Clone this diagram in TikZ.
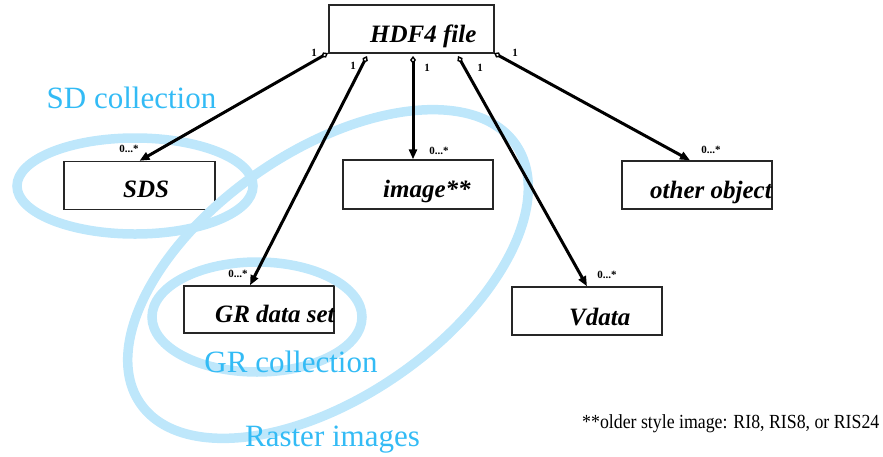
\documentclass[tikz,border=0pt]{standalone}
\usepackage{fontspec}
\setmainfont{Liberation Serif}
\newfontfamily\condfont[FakeStretch=0.89]{Liberation Serif}
\usetikzlibrary{arrows.meta,calc}
\definecolor{ringblue}{RGB}{190,231,251}
\definecolor{labelblue}{RGB}{51,187,245}
\begin{document}
\begin{tikzpicture}[x=1pt,y=-1pt,
  box/.style={draw=black!85, line width=1.4pt, minimum width=150pt, minimum height=48pt, inner sep=0pt},
  boxtext/.style={font=\fontsize{25}{25}\selectfont\bfseries\itshape, anchor=base west, inner sep=0pt},
  link/.style={line width=3pt, {Diamond[open,length=8pt,width=6pt,line width=1.4pt]}-{Triangle[length=10pt,width=8pt]}},
  ring/.style={draw=ringblue, line width=9.5pt},
  ringlabel/.style={text=labelblue, font=\fontsize{31}{31}\selectfont, inner sep=0pt, anchor=base},
  mult/.style={font=\fontsize{11}{11}\selectfont\bfseries, inner sep=0pt}]
\useasboundingbox (0,0) rectangle (883,456);

% boxes
\node[box, minimum width=165pt] (hdf) at (411.5,29) {};
\node[box, minimum width=151pt] (sds) at (139.5,185.5) {};
\node[box, minimum height=49pt] (img) at (418,184.5) {};
\node[box] (oth) at (697,185) {};
\node[box, minimum height=47pt] (gr) at (259,309.5) {};
\node[box] (vd) at (587,311) {};

% box texts
\node[boxtext] (hdft) at (370,42) {HDF4 file};
\node[boxtext] (sdst) at (123,197) {SDS};
\node[boxtext] (imgt) at (383,197) {image**};
\node[boxtext] (otht) at (650,198) {other object};
\node[boxtext] (grt) at (215,322) {GR data set};
\node[boxtext] (vdt) at (569,325) {Vdata};

% collections
\draw[ring] (135,186) ellipse [x radius=118, y radius=48];
\draw[ring] (257,317) ellipse [x radius=105, y radius=55];
\draw[ring, rotate around={34.6:(328,274)}] (328,274) ellipse [x radius=228, y radius=123];

\node[ringlabel] (sdl) at (131.5,108) {SD collection};
\node[ringlabel] (grl) at (291,372) {GR collection};
\node[ringlabel] (rasl) at (332.5,446) {Raster images};

% aggregation links
\coordinate (a1) at (328,53);
\coordinate (a2) at (367,56);
\coordinate (a3) at (413,56);
\coordinate (a4) at (458,56);
\coordinate (a5) at (494,53);
\draw[link] (a1) -- (sds.north);
\draw[link] (a2) -- ([xshift=-9pt]gr.north);
\draw[link] (a3) -- ([xshift=-5pt]img.north);
\draw[link] (a4) -- (vd.north);
\draw[link] (a5) -- ([xshift=-7pt]oth.north);

% multiplicities
\node[mult] (m1) at (314,53) {1};
\node[mult] (m2) at (353,66) {1};
\node[mult] (m3) at (427,68) {1};
\node[mult] (m4) at (480,68) {1};
\node[mult] (m5) at (515,53) {1};
\node[mult] (n1) at (129,149) {0...*};
\node[mult] (n2) at (238,274) {0...*};
\node[mult] (n3) at (439,151) {0...*};
\node[mult] (n4) at (607,275) {0...*};
\node[mult] (n5) at (711,150) {0...*};

% note
\node[font=\condfont\fontsize{20}{20}\selectfont, anchor=base west, inner sep=0pt] (note) at (582,428) {**older style image: RI8, RIS8, or RIS24};
\end{tikzpicture}
\end{document}
